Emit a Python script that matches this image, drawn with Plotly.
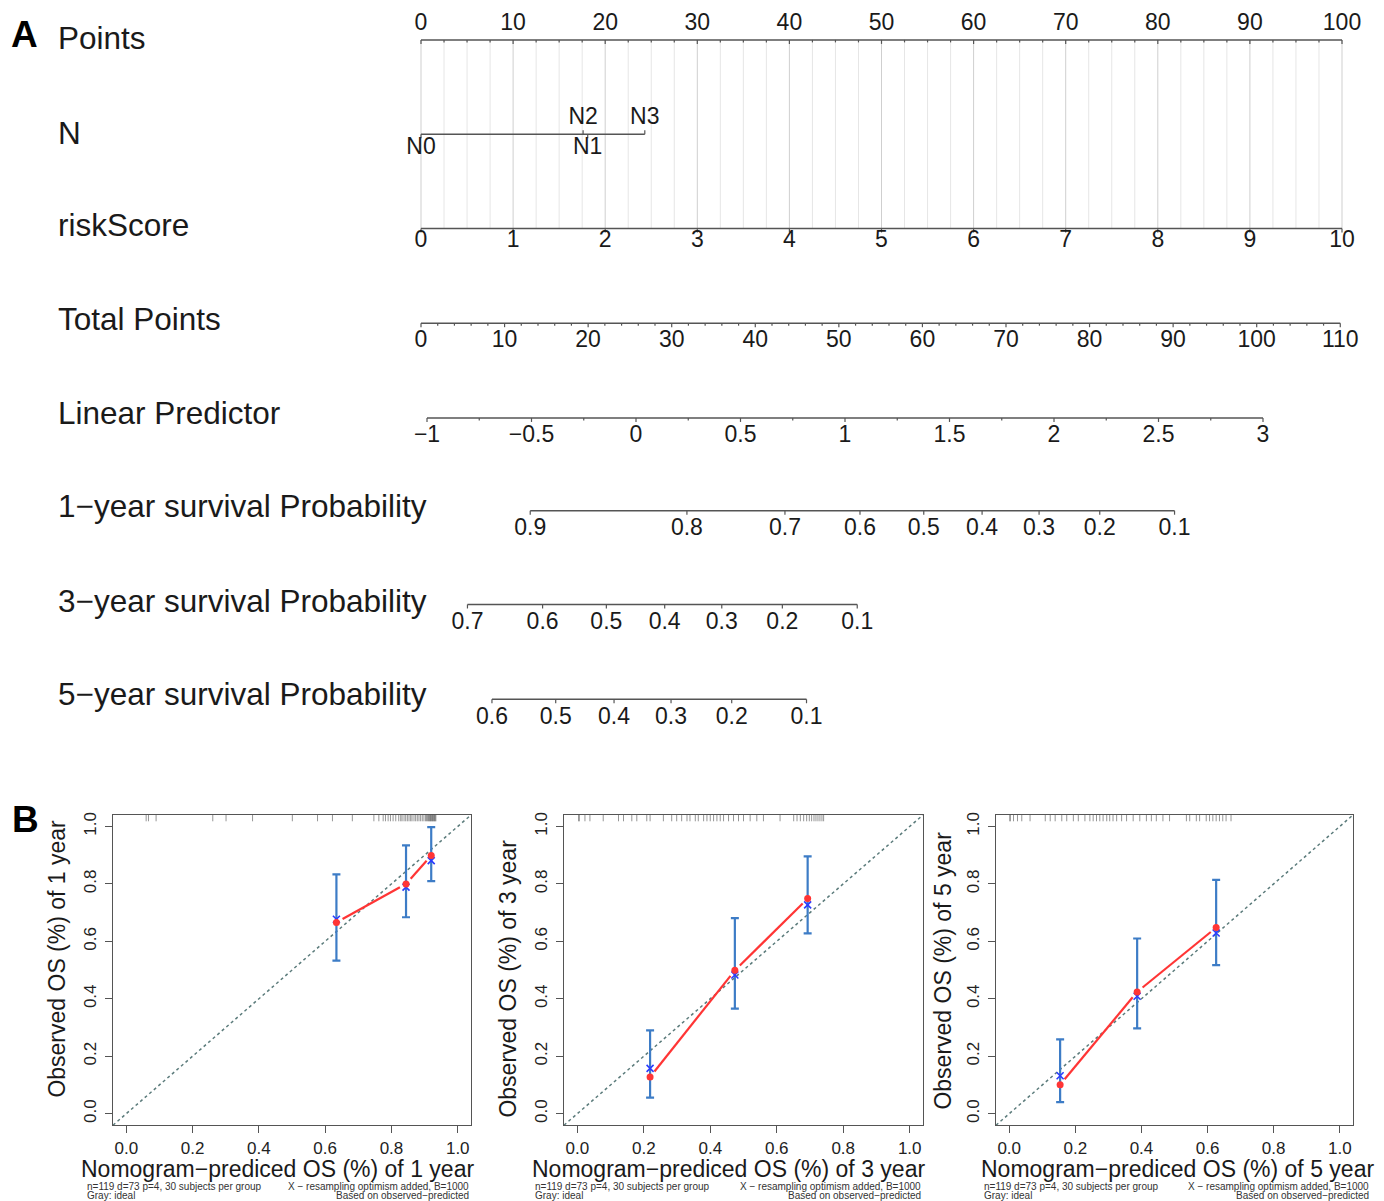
import math
import plotly.graph_objects as go

FONT = "Liberation Sans, Arial, Helvetica, sans-serif"
W, H = 1384, 1201
TXT = "#1a1a1a"
AXC = "#555555"

# ======================= DATA : nomogram (panel A) =======================
points_major = [0, 10, 20, 30, 40, 50, 60, 70, 80, 90, 100]
points_minor = [i * 2.5 for i in range(41)]
n_levels = ["N0", "N1", "N2", "N3"]
n_points = [0.0, 18.1, 17.6, 24.3]
n_label_above = [False, False, True, True]
risk_ticks = [0, 1, 2, 3, 4, 5, 6, 7, 8, 9, 10]
total_major = [0, 10, 20, 30, 40, 50, 60, 70, 80, 90, 100, 110]
total_minor = [i * 2 for i in range(56)]
lp_major = [-1, -0.5, 0, 0.5, 1, 1.5, 2, 2.5, 3]
lp_minor = [-1 + i * 0.25 for i in range(17)]
surv1_labels = ["0.9", "0.8", "0.7", "0.6", "0.5", "0.4", "0.3", "0.2", "0.1"]
surv1_total = [13.07, 31.82, 43.55, 52.53, 60.16, 67.14, 73.96, 81.22, 90.17]
surv3_labels = ["0.7", "0.6", "0.5", "0.4", "0.3", "0.2", "0.1"]
surv3_total = [5.56, 14.55, 22.18, 29.16, 35.99, 43.24, 52.20]
surv5_labels = ["0.6", "0.5", "0.4", "0.3", "0.2", "0.1"]
surv5_total = [8.49, 16.12, 23.10, 29.92, 37.18, 46.13]
row_titles = ["Points", "N", "riskScore", "Total Points", "Linear Predictor",
              "1\u2212year survival Probability", "3\u2212year survival Probability",
              "5\u2212year survival Probability"]

# ======================= DATA : calibration (panel B) =======================
cal_ticks = [0.0, 0.2, 0.4, 0.6, 0.8, 1.0]
cal_years = ["1", "3", "5"]
cal1_pred = [0.634, 0.844, 0.920]
cal1_obs = [0.666, 0.800, 0.899]
cal1_corr = [0.677, 0.789, 0.881]
cal1_lo = [0.533, 0.684, 0.810]
cal1_hi = [0.833, 0.934, 0.998]
cal3_pred = [0.219, 0.474, 0.693]
cal3_obs = [0.128, 0.499, 0.749]
cal3_corr = [0.158, 0.483, 0.727]
cal3_lo = [0.056, 0.366, 0.628]
cal3_hi = [0.290, 0.681, 0.896]
cal5_pred = [0.154, 0.387, 0.626]
cal5_obs = [0.101, 0.424, 0.648]
cal5_corr = [0.132, 0.409, 0.629]
cal5_lo = [0.040, 0.297, 0.517]
cal5_hi = [0.259, 0.610, 0.814]
rug1 = [0.060, 0.067, 0.090, 0.261, 0.301, 0.381, 0.501, 0.577, 0.622, 0.682,
        0.747, 0.762, 0.775, 0.782, 0.790, 0.797, 0.805, 0.813, 0.822, 0.828,
        0.832, 0.838, 0.843, 0.848, 0.853, 0.858, 0.862, 0.868, 0.873, 0.878,
        0.883, 0.888, 0.893, 0.898, 0.903, 0.906, 0.909, 0.912, 0.914, 0.916,
        0.918, 0.920, 0.922, 0.924, 0.926, 0.928, 0.930, 0.932, 0.934]
rug3 = [0.004, 0.006, 0.023, 0.038, 0.078, 0.124, 0.139, 0.164, 0.179, 0.209,
        0.219, 0.259, 0.284, 0.299, 0.314, 0.330, 0.339, 0.355, 0.364, 0.380,
        0.390, 0.400, 0.410, 0.420, 0.430, 0.440, 0.455, 0.470, 0.485, 0.500,
        0.520, 0.540, 0.560, 0.610, 0.651, 0.661, 0.671, 0.681, 0.690, 0.698,
        0.705, 0.712, 0.718, 0.724, 0.730, 0.736, 0.741]
rug5 = [0.002, 0.003, 0.013, 0.025, 0.038, 0.063, 0.109, 0.124, 0.139, 0.159,
        0.174, 0.194, 0.209, 0.229, 0.244, 0.254, 0.264, 0.274, 0.284, 0.295,
        0.304, 0.314, 0.325, 0.340, 0.355, 0.375, 0.395, 0.415, 0.430, 0.445,
        0.465, 0.485, 0.536, 0.546, 0.566, 0.576, 0.596, 0.606, 0.616, 0.626,
        0.636, 0.646, 0.656, 0.671]
cal_sets = [
    (cal1_pred, cal1_obs, cal1_corr, cal1_lo, cal1_hi, rug1),
    (cal3_pred, cal3_obs, cal3_corr, cal3_lo, cal3_hi, rug3),
    (cal5_pred, cal5_obs, cal5_corr, cal5_lo, cal5_hi, rug5),
]

# ======================= LAYOUT CONSTANTS =======================
# pixel where value 0 lands, pixels per unit (for each nomogram scale)
SC_POINTS = (421.0, 9.21)
SC_RISK = (421.0, 92.1)
SC_TOTAL = (421.0, 8.357)
SC_LP = (636.0, 209.0)


def rng(sc):
    px0, s = sc
    return [-px0 / s, (W - px0) / s]


# row line positions and label positions (pixel rows)
Y_POINTS, Y_N, Y_RISK, Y_TOTAL, Y_LP, Y_S1, Y_S3, Y_S5 = 37, 131.5, 226, 321, 416, 509, 603, 698
ROW_TITLE_Y = [35, 130, 223, 317, 411, 504, 599, 693]
TICK_FONT = 23
TL_MAJ, TL_MIN = 4, 2.5

fig = go.Figure()


def segs(xs, y0, y1):
    X, Y = [], []
    for v in xs:
        X += [v, v, None]
        Y += [y0, y1, None]
    return X, Y


def add_lines(X, Y, xa, color=AXC, width=1.5, ya="y", dash=None):
    fig.add_trace(go.Scatter(x=X, y=Y, mode="lines", xaxis=xa, yaxis=ya,
                             line=dict(color=color, width=width, dash=dash),
                             hoverinfo="skip", showlegend=False))


def add_text(xs, ys, texts, xa, size=TICK_FONT):
    fig.add_trace(go.Scatter(x=xs, y=ys, text=texts, mode="text", xaxis=xa, yaxis="y",
                             textfont=dict(family=FONT, size=size, color=TXT),
                             textposition="middle center", cliponaxis=False,
                             hoverinfo="skip", showlegend=False))


def fmt(v):
    s = ("%g" % v)
    return s.replace("-", "\u2212")


# ---- vertical reference grid (Points scale) ----
minor_only = [v for v in points_minor if v not in points_major]
X, Y = segs(minor_only, Y_POINTS, Y_RISK)
add_lines(X, Y, "x", color="#e6e6e6", width=1)
X, Y = segs(points_major, Y_POINTS, Y_RISK)
add_lines(X, Y, "x", color="#cfcfcf", width=1)

# ---- Points axis ----
add_lines([points_major[0], points_major[-1]], [Y_POINTS, Y_POINTS], "x")
X, Y = segs(minor_only, Y_POINTS, Y_POINTS + TL_MIN)
add_lines(X, Y, "x", width=1.2)
X, Y = segs(points_major, Y_POINTS, Y_POINTS + TL_MAJ)
add_lines(X, Y, "x", width=1.2)
add_text(points_major, [21] * len(points_major), [fmt(v) for v in points_major], "x")

# ---- N ----
add_lines([min(n_points), max(n_points)], [Y_N, Y_N], "x")
for p, lab, above in zip(n_points, n_levels, n_label_above):
    y1 = Y_N - TL_MAJ if above else Y_N + TL_MAJ
    add_lines([p, p], [Y_N, y1], "x", width=1.2)
add_text(n_points, [116 if a else 146 for a in n_label_above], n_levels, "x")

# ---- riskScore ----
add_lines([risk_ticks[0], risk_ticks[-1]], [Y_RISK, Y_RISK], "x2")
X, Y = segs(risk_ticks, Y_RISK, Y_RISK + TL_MAJ)
add_lines(X, Y, "x2", width=1.2)
add_text(risk_ticks, [239] * len(risk_ticks), [fmt(v) for v in risk_ticks], "x2")

# ---- Total Points ----
add_lines([total_major[0], total_major[-1]], [Y_TOTAL, Y_TOTAL], "x3")
X, Y = segs([v for v in total_minor if v not in total_major], Y_TOTAL, Y_TOTAL + TL_MIN)
add_lines(X, Y, "x3", width=1.2)
X, Y = segs(total_major, Y_TOTAL, Y_TOTAL + TL_MAJ)
add_lines(X, Y, "x3", width=1.2)
add_text(total_major, [339] * len(total_major), [fmt(v) for v in total_major], "x3")

# ---- Linear Predictor ----
add_lines([lp_major[0], lp_major[-1]], [Y_LP, Y_LP], "x4")
X, Y = segs([v for v in lp_minor if v not in lp_major], Y_LP, Y_LP + TL_MIN)
add_lines(X, Y, "x4", width=1.2)
X, Y = segs(lp_major, Y_LP, Y_LP + TL_MAJ)
add_lines(X, Y, "x4", width=1.2)
add_text(lp_major, [434] * len(lp_major), [fmt(v) for v in lp_major], "x4")

# ---- survival probability scales (positioned on Total Points scale) ----
for labels, tot, yl in [(surv1_labels, surv1_total, Y_S1),
                        (surv3_labels, surv3_total, Y_S3),
                        (surv5_labels, surv5_total, Y_S5)]:
    add_lines([min(tot), max(tot)], [yl, yl], "x3")
    X, Y = segs(tot, yl, yl + TL_MAJ)
    add_lines(X, Y, "x3", width=1.2)
    add_text(tot, [yl + 19] * len(tot), labels, "x3")

annotations = []
for t, yy in zip(row_titles, ROW_TITLE_Y):
    annotations.append(dict(text=t, xref="paper", x=56 / W, xanchor="left",
                            yref="y", y=yy, yanchor="middle", showarrow=False,
                            font=dict(family=FONT, size=31.5, color=TXT)))
annotations.append(dict(text="<b>A</b>", xref="paper", x=9 / W, xanchor="left",
                        yref="paper", y=1 - 32 / H, yanchor="middle", showarrow=False,
                        font=dict(family=FONT, size=37, color="#000")))
annotations.append(dict(text="<b>B</b>", xref="paper", x=10 / W, xanchor="left",
                        yref="paper", y=1 - 819 / H, yanchor="middle", showarrow=False,
                        font=dict(family=FONT, size=37, color="#000")))

# ======================= calibration panels =======================
CAL_X = [(113, 471), (564, 923), (996, 1353)]
CAL_TOP, CAL_BOT = 814, 1125
CAL_RANGE = [-0.04, 1.04]
XT_CENTER = [277, 728, 1177]
YT_X = [57, 508, 943]
YT_Y = [958, 978, 970]
SUB_L = [85, 533, 982]
SUB_R = [471, 923, 1371]
RED = "#ff3535"
EBLUE = "#3d7cc6"
GAP = 7.0

layout_axes = {}
for i, ((l, r), data, yr) in enumerate(zip(CAL_X, cal_sets, cal_years)):
    n = i + 5
    xa, ya = "x%d" % n, "y%d" % n
    pred, obs, corr, lo, hi, rug = data
    sx = (r - l) / (CAL_RANGE[1] - CAL_RANGE[0])
    sy = (CAL_BOT - CAL_TOP) / (CAL_RANGE[1] - CAL_RANGE[0])

    # ideal line (gray dotted)
    fig.add_trace(go.Scatter(x=CAL_RANGE, y=CAL_RANGE, mode="lines", xaxis=xa, yaxis=ya,
                             line=dict(color="#5b7b7b", width=1.5, dash="dot"),
                             hoverinfo="skip", showlegend=False))
    # rug of predicted values
    RX, RY = [], []
    for v in rug:
        RX += [v, v, None]
        RY += [1.018, 1.04, None]
    fig.add_trace(go.Scatter(x=RX, y=RY, mode="lines", xaxis=xa, yaxis=ya,
                             line=dict(color="rgba(80,80,80,0.6)", width=1),
                             hoverinfo="skip", showlegend=False))
    # error bars
    fig.add_trace(go.Scatter(x=pred, y=obs, mode="markers", xaxis=xa, yaxis=ya,
                             marker=dict(size=2, color="rgba(0,0,0,0)"),
                             error_y=dict(type="data", symmetric=False,
                                          array=[h - o for h, o in zip(hi, obs)],
                                          arrayminus=[o - q for o, q in zip(obs, lo)],
                                          color=EBLUE, thickness=2.2, width=4),
                             hoverinfo="skip", showlegend=False))
    # observed line (type "b": segments with gaps around points)
    LX, LY = [], []
    for k in range(len(pred) - 1):
        x1, y1, x2, y2 = pred[k], obs[k], pred[k + 1], obs[k + 1]
        L = math.hypot((x2 - x1) * sx, (y2 - y1) * sy)
        f = GAP / L
        LX += [x1 + f * (x2 - x1), x2 - f * (x2 - x1), None]
        LY += [y1 + f * (y2 - y1), y2 - f * (y2 - y1), None]
    fig.add_trace(go.Scatter(x=LX, y=LY, mode="lines", xaxis=xa, yaxis=ya,
                             line=dict(color=RED, width=2.2),
                             hoverinfo="skip", showlegend=False))
    # bias-corrected (blue x)
    fig.add_trace(go.Scatter(x=pred, y=corr, mode="markers", xaxis=xa, yaxis=ya,
                             marker=dict(symbol="x-thin", size=7,
                                         line=dict(color="#2b3cff", width=1.6)),
                             hoverinfo="skip", showlegend=False))
    # observed points
    fig.add_trace(go.Scatter(x=pred, y=obs, mode="markers", xaxis=xa, yaxis=ya,
                             marker=dict(size=7, color=RED),
                             hoverinfo="skip", showlegend=False))

    common = dict(range=CAL_RANGE, showline=True, mirror=True, linecolor=AXC, linewidth=1.3,
                  ticks="outside", ticklen=7, tickwidth=1.2, tickcolor=AXC,
                  tickvals=cal_ticks, ticktext=["%.1f" % v for v in cal_ticks],
                  tickfont=dict(family=FONT, size=17, color="#222"),
                  showgrid=False, zeroline=False, fixedrange=True)
    layout_axes["xaxis%d" % n] = dict(common, domain=[l / W, r / W], anchor=ya,
                                      ticklabelstandoff=0)
    layout_axes["yaxis%d" % n] = dict(common, domain=[1 - CAL_BOT / H, 1 - CAL_TOP / H],
                                      anchor=xa, tickangle=-90, ticklabelstandoff=2)

    annotations.append(dict(text="Nomogram\u2212prediced OS (%) of " + yr + " year",
                            xref="paper", x=XT_CENTER[i] / W, xanchor="center",
                            yref="paper", y=1 - 1169 / H, yanchor="middle", showarrow=False,
                            font=dict(family=FONT, size=23, color=TXT)))
    annotations.append(dict(text="Observed OS (%) of " + yr + " year", textangle=-90,
                            xref="paper", x=YT_X[i] / W, xanchor="center",
                            yref="paper", y=1 - YT_Y[i] / H, yanchor="middle", showarrow=False,
                            font=dict(family=FONT, size=23, color=TXT)))
    for txt, yy in [("n=119 d=73 p=4, 30 subjects per group", 1186), ("Gray: ideal", 1195)]:
        annotations.append(dict(text=txt, xref="paper", x=SUB_L[i] / W, xanchor="left",
                                yref="paper", y=1 - yy / H, yanchor="middle", showarrow=False,
                                font=dict(family=FONT, size=10, color="#333")))
    for txt, yy in [("X \u2212 resampling optimism added, B=1000", 1186),
                    ("Based on observed\u2212predicted", 1195)]:
        annotations.append(dict(text=txt, xref="paper", x=SUB_R[i] / W, xanchor="right",
                                yref="paper", y=1 - yy / H, yanchor="middle", showarrow=False,
                                font=dict(family=FONT, size=10, color="#333")))

hidden = dict(visible=False, fixedrange=True, showgrid=False, zeroline=False)
fig.update_layout(
    width=W, height=H,
    margin=dict(l=0, r=0, t=0, b=0, pad=0),
    paper_bgcolor="white", plot_bgcolor="rgba(0,0,0,0)",
    showlegend=False,
    xaxis=dict(hidden, domain=[0, 1], range=rng(SC_POINTS), anchor="y"),
    xaxis2=dict(hidden, overlaying="x", range=rng(SC_RISK), anchor="y"),
    xaxis3=dict(hidden, overlaying="x", range=rng(SC_TOTAL), anchor="y"),
    xaxis4=dict(hidden, overlaying="x", range=rng(SC_LP), anchor="y"),
    yaxis=dict(hidden, domain=[0, 1], range=[H, 0], anchor="x"),
    annotations=annotations,
    **layout_axes,
)

fig.write_html("out.html")
